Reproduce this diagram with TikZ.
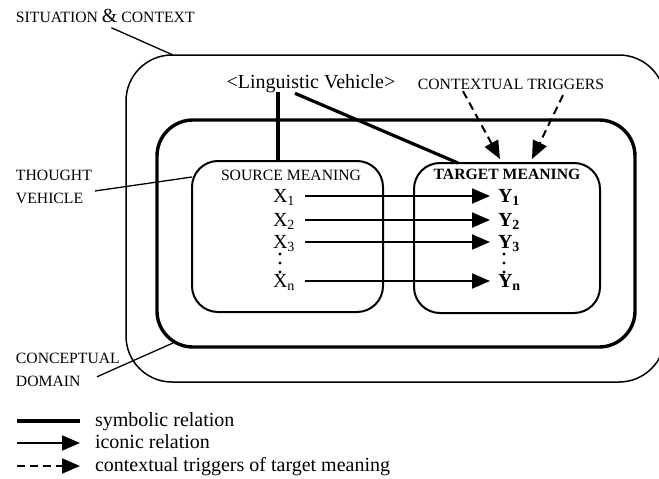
\documentclass[tikz,border=0pt]{standalone}
\usepackage{fontspec}
\setmainfont{Liberation Serif}
\usetikzlibrary{arrows.meta}

% small-capital labels and the full-size ampersand used in them
\newcommand\capsize{\fontsize{15.7}{23}\selectfont}
\newcommand\bigamp{{\fontsize{20}{20}\selectfont\&}}

\begin{document}
\begin{tikzpicture}[x=1pt,y=-1pt,
  every node/.style={inner sep=0pt, outer sep=0pt},
  situationbox/.style={draw, line width=1.5pt, rounded corners=46pt},
  domainbox/.style={draw, line width=3.4pt, rounded corners=36pt},
  meaningbox/.style={draw, line width=2pt, rounded corners=26pt},
  caplabel/.style={font=\capsize, align=left},
  bodytext/.style={font=\fontsize{20}{23}\selectfont},
  termx/.style={font=\fontsize{20}{23}\selectfont, text height=13pt, text depth=0pt, anchor=west},
  termy/.style={termx, font=\fontsize{20}{23}\selectfont\bfseries},
  pointer/.style={line width=1.3pt},
  symbolic/.style={line width=3.2pt},
  iconic/.style={line width=2pt, -{Triangle[length=18pt,width=15pt]}},
  trigger/.style={iconic, dash pattern=on 8pt off 5pt},
  dotmark/.style={fill=black}]

\useasboundingbox (0,0) rectangle (659,479);

% nested frames
\node[situationbox, minimum width=539pt, minimum height=327pt] (outer) at (395.5,218.5) {};
\node[domainbox, minimum width=478pt, minimum height=227pt] (domain) at (396,233.5) {};
\node[meaningbox, minimum width=191pt, minimum height=151pt] (source) at (287.5,236.5) {};
\node[meaningbox, minimum width=186pt, minimum height=150pt] (target) at (507,238) {};

% outside labels
\node[caplabel, anchor=base west] (sit) at (16,22.5) {SITUATION \bigamp{} CONTEXT};
\node[caplabel, anchor=west] (thought) at (16,187) {THOUGHT\\VEHICLE};
\node[caplabel, anchor=west] (concept) at (16,370) {CONCEPTUAL\\DOMAIN};

\draw[pointer] ([xshift=6pt,yshift=-5pt]sit.south) -- ([xshift=47pt]outer.north west);
\draw[pointer] ([xshift=3pt,yshift=-4pt]thought.east) -- ([yshift=-16pt]source.north west);
\draw[pointer] ([xshift=81pt,yshift=10pt]concept.south west) -- ([xshift=16pt,yshift=4pt]domain.south west);

% linguistic vehicle and contextual triggers
\node[bodytext, anchor=base] (ling) at (311,88) {<Linguistic Vehicle>};
\node[caplabel, anchor=base] (trig) at (511,89) {CONTEXTUAL TRIGGERS};

\draw[symbolic] ([xshift=-33pt]ling.south) -- ([xshift=-33pt]ling.south |- source.north);
\draw[symbolic] ([xshift=-16pt,yshift=-1pt]ling.south) -- ([xshift=44pt]target.north west);

\draw[trigger] ([xshift=-48pt,yshift=-2pt]trig.south) -- ([xshift=-7pt,yshift=4pt]target.north);
\draw[trigger] ([xshift=52pt,yshift=-6pt]trig.south) -- ([xshift=25pt,yshift=4pt]target.north);

% meaning headings
\node[caplabel, anchor=base] (srchead) at (291,180.5) {SOURCE MEANING};
\node[caplabel, anchor=base, font=\capsize\bfseries] (tgthead) at (507,179.5) {TARGET MEANING};

% source and target terms
\node[termx] (x1) at (273,196) {X\textsubscript{1}};
\node[termx] (x2) at (273,220) {X\textsubscript{2}};
\node[termx] (x3) at (273,242) {X\textsubscript{3}};
\node[termx] (xn) at (273,281) {X\textsubscript{n}};
\node[termy] (y1) at (498,196) {Y\textsubscript{1}};
\node[termy] (y2) at (498,220) {Y\textsubscript{2}};
\node[termy] (y3) at (498,242) {Y\textsubscript{3}};
\node[termy] (yn) at (498,281) {Y\textsubscript{n}};

\foreach \yy in {254,263,272} {
  \fill[dotmark] (280,\yy) circle (1.7pt);
  \fill[dotmark] (504,\yy) circle (1.7pt);
}

\foreach \a/\b in {x1/y1,x2/y2,x3/y3,xn/yn}
  \draw[iconic] ([xshift=10pt]\a.east) -- ([xshift=-8pt]\b.west);

% legend
\node[bodytext, anchor=base west] (legsym) at (95,426) {symbolic relation};
\node[bodytext, anchor=base west] (legico) at (95,448) {iconic relation};
\node[bodytext, anchor=base west] (legtrg) at (95,471) {contextual triggers of target meaning};

\coordinate (symstart) at (17,421);
\coordinate (symend) at (80,421);
\coordinate (icostart) at (17,443);
\coordinate (icoend) at (80,443);
\coordinate (trgstart) at (17,466);
\coordinate (trgend) at (80,466);
\draw[symbolic] (symstart) -- (symend);
\draw[iconic] (icostart) -- (icoend);
\draw[trigger] (trgstart) -- (trgend);

\end{tikzpicture}
\end{document}
